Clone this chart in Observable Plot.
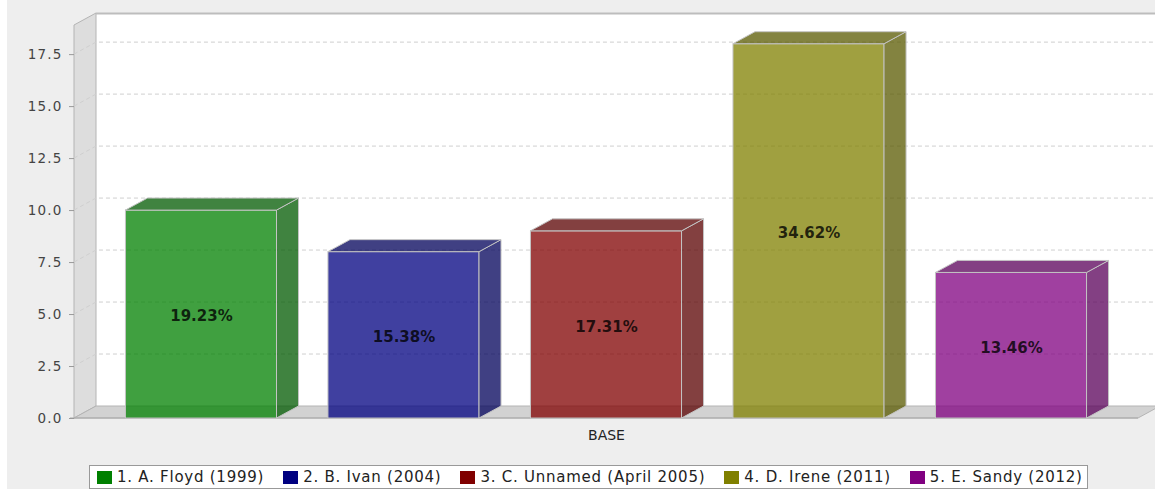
<!DOCTYPE html>
<html>
<head>
<meta charset="utf-8">
<script src="https://cdn.jsdelivr.net/npm/d3@7"></script>
<script src="https://cdn.jsdelivr.net/npm/@observablehq/plot@0.6"></script>
<style>
  html, body { margin: 0; padding: 0; background: #fff; }
  #wrap { position: relative; width: 1155px; height: 489px; overflow: hidden;
          background: linear-gradient(to right, #fff 0 7px, #eeeeee 7px); }
  #wrap svg { display: block; }
  g[aria-label="y-axis tick label"] text { letter-spacing: 1.2px; }
  #legend { position: absolute; left: 89px; top: 465px; width: 999px; height: 24px;
            border: 1px solid #999; background: #fff; display: flex; align-items: center;
            box-sizing: border-box; padding-left: 7px; gap: 19px;
            font-family: "DejaVu Sans", sans-serif; font-size: 15px; letter-spacing: 0.75px; color: #222; }
  #legend .item { display: flex; align-items: center; white-space: nowrap; }
  #legend .sw { display: inline-block; width: 15px; height: 13px; margin-right: 5px; }
</style>
</head>
<body>
<div id="wrap"><div id="chart"></div><div id="legend"></div></div>
<script>
// ---- data ----
const category = "BASE";
const series = ["1. A. Floyd (1999)", "2. B. Ivan (2004)", "3. C. Unnamed (April 2005)", "4. D. Irene (2011)", "5. E. Sandy (2012)"];
const values = [10, 8, 9, 18, 7];
const colors = ["#008000", "#000080", "#800000", "#808000", "#800080"];
const sideColors = ["#005900", "#000059", "#590000", "#595900", "#590059"];
const yTicks = [0, 2.5, 5, 7.5, 10, 12.5, 15, 17.5];
const yMax = 18.9;

const total = d3.sum(values);
const data = series.map((s, i) => ({
  series: s, value: values[i], color: colors[i], side: sideColors[i],
  label: (values[i] / total * 100).toFixed(2) + "%"
}));

const DX = 22, DY = 12; // 3D depth offsets (pixels)

// backdrop: walls, floor, gridlines (drawn through the plot's scales)
function backdrop(index, scales, values, dims) {
  const L = dims.marginLeft, T = dims.marginTop;
  const R = dims.width - dims.marginRight, B = dims.height - dims.marginBottom;
  const y = scales.y;
  const g = d3.create("svg:g");
  g.append("rect").attr("x", L + DX).attr("y", T - DY).attr("width", R - L).attr("height", B - T).attr("fill", "#fff");
  g.append("path").attr("d", `M${L},${T}L${L + DX},${T - DY}L${L + DX},${B - DY}L${L},${B}Z`)
    .attr("fill", "#dddddd").attr("stroke", "#b4b4b4");
  g.append("path").attr("d", `M${L},${B}L${L + DX},${B - DY}L${R + DX},${B - DY}L${R},${B}Z`)
    .attr("fill", "#d2d2d2").attr("stroke", "#b4b4b4");
  g.append("line").attr("x1", L + DX).attr("x2", R + DX).attr("y1", T - DY + 0.5).attr("y2", T - DY + 0.5)
    .attr("stroke", "#bdbdbd").attr("stroke-width", 2);
  g.append("line").attr("x1", L - 4).attr("x2", R).attr("y1", B).attr("y2", B)
    .attr("stroke", "#a8a8a8");
  for (const t of yTicks) {
    if (t === 0) continue;
    const yy = y(t);
    g.append("path").attr("d", `M${L},${yy}L${L + DX},${yy - DY}L${R + DX},${yy - DY}`)
      .attr("fill", "none").attr("stroke", "#cfcfcf").attr("stroke-dasharray", "4,3");
  }
  return g.node();
}

// 3D side and top faces of each bar
function faces(index, scales, values, dims) {
  const x = scales.x, y = scales.y;
  const bw = x.bandwidth();
  const B = y(0);
  const g = d3.create("svg:g");
  for (const d of data) {
    const x0 = x(d.series), x1 = x0 + bw, yt = y(d.value);
    g.append("path").attr("d", `M${x1},${yt}L${x1 + DX},${yt - DY}L${x1 + DX},${B - DY}L${x1},${B}Z`)
      .attr("fill", d.side).attr("fill-opacity", 0.75).attr("stroke", "#c4c4c4");
    g.append("path").attr("d", `M${x0},${yt}L${x0 + DX},${yt - DY}L${x1 + DX},${yt - DY}L${x1},${yt}Z`)
      .attr("fill", d.side).attr("fill-opacity", 0.75).attr("stroke", "#c4c4c4");
  }
  return g.node();
}

const chart = Plot.plot({
  width: 1155,
  height: 455,
  marginLeft: 74,
  marginRight: 17,
  marginTop: 25,
  marginBottom: 37,
  style: { background: "transparent", fontFamily: "DejaVu Sans, sans-serif", overflow: "visible" },
  x: { domain: series, padding: 0.254, round: false, axis: null },
  y: { domain: [0, yMax], axis: null },
  color: { domain: series, range: colors },
  marks: [
    backdrop,
    Plot.barY(data, { x: "series", y: "value", fill: "series", fillOpacity: 0.75, stroke: "#c4c4c4" }),
    faces,
    Plot.text(data, { x: "series", y: d => d.value / 2, text: "label", fontWeight: "bold", fontSize: 15,
                      fill: "#000", fillOpacity: 0.8, dy: 2, style: "letter-spacing:0.6px" }),
    Plot.axisY({ ticks: yTicks, tickFormat: d => d.toFixed(1), tickSize: 5, tickPadding: 7,
                 fontSize: 13.5, label: null, stroke: "#999", fill: "#444" }),
    Plot.text([category], { frameAnchor: "bottom", lineAnchor: "middle", dy: 17, fontSize: 14, fill: "#222" })
  ]
});
document.getElementById("chart").appendChild(chart);

// legend
const legend = d3.select("#legend");
series.forEach((s, i) => {
  const it = legend.append("div").attr("class", "item");
  it.append("span").attr("class", "sw").style("background", colors[i]);
  it.append("span").text(s);
});
</script>
</body>
</html>
